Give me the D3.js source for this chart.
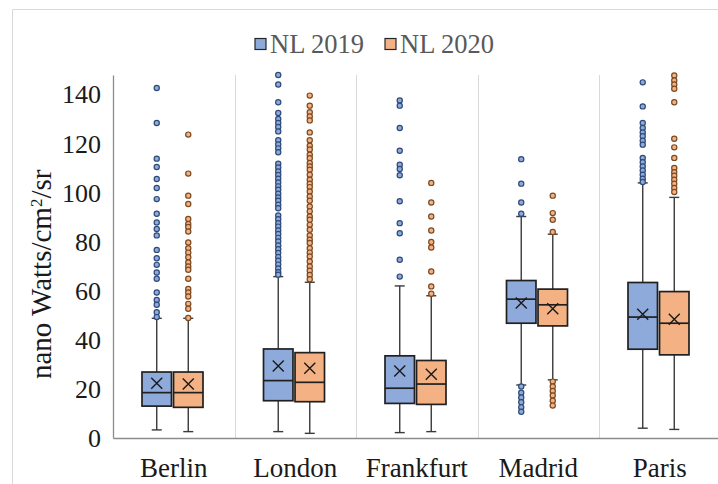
<!DOCTYPE html>
<html>
<head>
<meta charset="utf-8">
<script src="https://cdn.jsdelivr.net/npm/d3@7"></script>
<style>
  html, body { margin: 0; padding: 0; background: #fff; }
  svg { display: block; }
</style>
</head>
<body>
<svg id="chart" width="718" height="484"></svg>
<script>
// Night-time radiance by city, two years side by side
const cities = ["Berlin", "London", "Frankfurt", "Madrid", "Paris"];
const seriesNames = ["NL 2019", "NL 2020"];
const yTicks = [0, 20, 40, 60, 80, 100, 120, 140];

// five-number summaries and means, per city
const low2019    = [3.3, 2.6, 2.2, 21.6, 4.0];
const q1_2019    = [13.0, 15.2, 14.1, 46.8, 36.2];
const median2019 = [18.5, 23.4, 20.3, 56.6, 49.3];
const q3_2019    = [26.9, 36.3, 33.5, 64.2, 63.4];
const high2019   = [48.8, 65.8, 62.0, 90.3, 104.0];
const mean2019   = [22.3, 29.4, 27.3, 55.0, 50.5];

const low2020    = [2.6, 1.9, 2.6, 23.7, 3.5];
const q1_2020    = [12.5, 14.8, 13.7, 45.7, 33.9];
const median2020 = [18.5, 22.7, 22.0, 54.3, 46.8];
const q3_2020    = [26.9, 34.8, 31.6, 60.7, 59.7];
const high2020   = [48.8, 63.5, 58.0, 83.1, 98.1];
const mean2020   = [22.0, 28.4, 26.0, 52.7, 48.4];

// outliers beyond the whiskers, per city
const outliers2019 = [
  [142.7, 128.4, 113.9, 110.5, 105.6, 101.9, 97.4, 91.4, 87.9, 85.2, 82.6, 76.7, 73.3, 70.6, 67.5, 64.9, 59.3, 56.3, 54.3, 51.3, 49.3],
  [148.0, 144.1, 136.9, 132.5, 130.1, 128.4, 126.8, 125.0, 121.4, 119.7, 118.1, 116.5, 111.8, 110.3, 108.7, 107.2, 105.7, 104.2, 102.6, 101.2, 99.6, 98.1, 96.7, 95.1, 93.7, 90.7, 89.2, 87.6, 86.2, 84.6, 83.2, 81.6, 80.1, 78.5, 77.0, 75.4, 73.8, 72.3, 70.7, 69.1, 67.6, 66.6],
  [137.6, 135.5, 126.4, 117.1, 111.4, 109.7, 107.1, 96.5, 87.6, 83.5, 72.7, 65.8],
  [113.7, 103.7, 96.0, 91.4, 21.0, 18.5, 16.5, 14.6, 12.5, 10.7],
  [145.0, 135.2, 128.4, 126.4, 124.6, 123.0, 121.2, 119.6, 114.2, 112.4, 110.7, 109.1, 107.3, 105.7, 104.4]
];
const outliers2020 = [
  [123.7, 107.8, 98.8, 95.4, 89.3, 87.3, 86.0, 84.2, 79.7, 77.4, 75.6, 73.7, 71.6, 69.9, 68.6, 64.9, 60.8, 59.3, 57.7, 54.7, 52.7, 48.9],
  [139.6, 135.5, 132.8, 131.1, 129.5, 124.6, 121.4, 119.2, 117.6, 115.5, 114.1, 112.1, 110.7, 109.4, 107.3, 105.3, 103.7, 102.3, 100.5, 98.5, 96.7, 94.4, 92.4, 90.3, 89.0, 86.9, 84.9, 82.6, 80.8, 79.5, 77.4, 75.6, 74.0, 72.0, 69.9, 68.2, 66.5, 64.7],
  [104.0, 96.0, 90.3, 84.6, 79.9, 77.7, 67.9, 61.8, 58.8],
  [98.8, 91.7, 89.0, 84.0, 23.0, 21.0, 19.2, 17.3, 15.2, 13.2],
  [147.8, 145.8, 144.1, 142.4, 136.9, 122.0, 118.5, 114.2, 110.1, 108.4, 106.9, 105.3, 103.7, 101.9, 100.3]
];

const fills   = ["#8eaadb", "#f4b183"];
const dotLine = ["#2e4a78", "#7a4a22"];

const series = [
  { name: seriesNames[0], low: low2019, q1: q1_2019, med: median2019, q3: q3_2019, high: high2019, mean: mean2019, out: outliers2019 },
  { name: seriesNames[1], low: low2020, q1: q1_2020, med: median2020, q3: q3_2020, high: high2020, mean: mean2020, out: outliers2020 }
];

const svg = d3.select("#chart");
const serif = "'Liberation Serif', 'Times New Roman', serif";

// outer frame of the chart
svg.append("line").attr("x1", 12.5).attr("x2", 12.5).attr("y1", 9.5).attr("y2", 484)
  .attr("stroke", "#d9d9d9").attr("stroke-width", 1);
svg.append("line").attr("x1", 12.5).attr("x2", 718).attr("y1", 9.5).attr("y2", 9.5)
  .attr("stroke", "#d9d9d9").attr("stroke-width", 1);

const plot = { left: 113, right: 720.5, top: 75, bottom: 438 };

const x = d3.scaleBand().domain(cities).range([plot.left, plot.right]).padding(0);
const xs = d3.scaleBand().domain(seriesNames).range([29, 90]).paddingInner(0.065).paddingOuter(0);
const y = d3.scaleLinear().domain([0, 148]).range([plot.bottom, plot.top]);

// category separators
svg.append("g").selectAll("line")
  .data(cities.slice(1))
  .join("line")
  .attr("x1", d => Math.round(x(d)) + 0.5)
  .attr("x2", d => Math.round(x(d)) + 0.5)
  .attr("y1", plot.top).attr("y2", plot.bottom)
  .attr("stroke", "#d9d9d9").attr("stroke-width", 1);

// y axis
const yAxis = svg.append("g")
  .attr("transform", `translate(${plot.left},0)`)
  .call(d3.axisLeft(y).tickValues(yTicks).tickSize(0).tickPadding(12));
yAxis.select(".domain").attr("stroke", "#8c8c8c").attr("stroke-width", 1.3);
yAxis.selectAll("text").attr("font-family", serif).attr("font-size", 26).attr("fill", "#1a1a1a");

// x axis
const xAxis = svg.append("g")
  .attr("transform", `translate(0,${plot.bottom})`)
  .call(d3.axisBottom(x).tickSize(0).tickPadding(20));
xAxis.select(".domain").attr("stroke", "#8c8c8c").attr("stroke-width", 1.3);
xAxis.selectAll("text").attr("font-family", serif).attr("font-size", 27).attr("fill", "#1a1a1a");

// y axis title, written upward from its first letter
const title = svg.append("text")
  .attr("transform", `translate(51,379) rotate(-90)`)
  .attr("text-anchor", "start")
  .attr("font-family", serif).attr("font-size", 29).attr("fill", "#1a1a1a");
title.append("tspan").text("nano Watts/cm");
title.append("tspan").attr("baseline-shift", "super").attr("font-size", 17).text("2");
title.append("tspan").text("/sr");

// boxes, whiskers, means and outliers
series.forEach((s, si) => {
  const g = svg.append("g");
  cities.forEach((c, ci) => {
    const x0 = x(c) + xs(s.name);
    const w = xs.bandwidth();
    const cx = x0 + w / 2;
    const cap = 5;
    const hi = y(s.high[ci]), lo = y(s.low[ci]);
    const top = y(s.q3[ci]), bot = y(s.q1[ci]);
    [[cx, hi, cx, top], [cx, bot, cx, lo], [cx - cap, hi, cx + cap, hi], [cx - cap, lo, cx + cap, lo]]
      .forEach(([a, b, c2, d]) => {
        g.append("line").attr("x1", a).attr("y1", b).attr("x2", c2).attr("y2", d)
          .attr("stroke", "#3a3a3a").attr("stroke-width", 1.4);
      });
    g.append("rect").attr("x", x0).attr("width", w)
      .attr("y", top).attr("height", bot - top)
      .attr("fill", fills[si]).attr("stroke", "#202020").attr("stroke-width", 1.7);
    const my0 = y(s.med[ci]);
    g.append("line").attr("x1", x0).attr("x2", x0 + w).attr("y1", my0).attr("y2", my0)
      .attr("stroke", "#202020").attr("stroke-width", 1.7);
    const my = y(s.mean[ci]), m = 5.5;
    g.append("path")
      .attr("d", `M${cx - m},${my - m}L${cx + m},${my + m}M${cx - m},${my + m}L${cx + m},${my - m}`)
      .attr("stroke", "#1a1a1a").attr("stroke-width", 1.4).attr("fill", "none");
    g.selectAll(null).data(s.out[ci]).join("circle")
      .attr("cx", cx).attr("cy", d => y(d)).attr("r", 2.6)
      .attr("fill", fills[si]).attr("stroke", dotLine[si]).attr("stroke-width", 1.2);
  });
});

// legend
const legend = svg.append("g");
const legendX = [255, 385];
seriesNames.forEach((n, i) => {
  legend.append("rect").attr("x", legendX[i]).attr("y", 38.5).attr("width", 11).attr("height", 11)
    .attr("fill", fills[i]).attr("stroke", "#262626").attr("stroke-width", 1.2);
  legend.append("text").attr("x", legendX[i] + 15).attr("y", 52.5)
    .attr("font-family", serif).attr("font-size", 26.5).attr("fill", "#595959").text(n);
});
</script>
</body>
</html>
